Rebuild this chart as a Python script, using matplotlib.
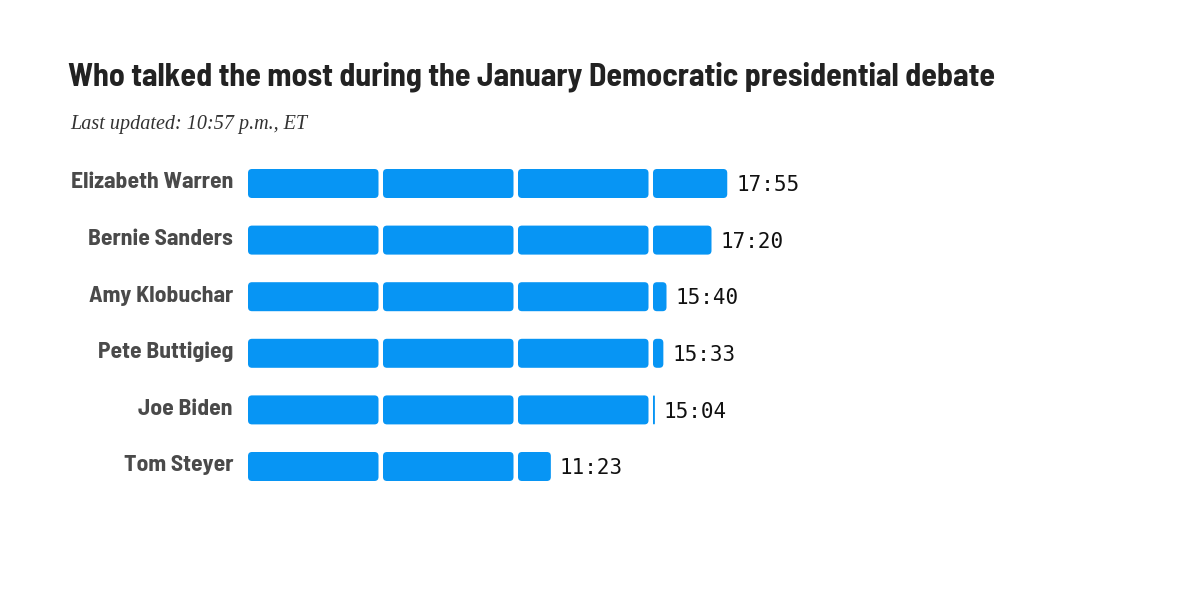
import matplotlib.pyplot as plt
from matplotlib import font_manager as fm
from matplotlib.patches import FancyBboxPatch

# speaking time per candidate, "mm:ss"
names = ["Elizabeth Warren", "Bernie Sanders", "Amy Klobuchar",
         "Pete Buttigieg", "Joe Biden", "Tom Steyer"]
times = ["17:55", "17:20", "15:40", "15:33", "15:04", "11:23"]

minutes = [int(t.split(":")[0]) + int(t.split(":")[1]) / 60 for t in times]

# condensed bold face if there is one, otherwise DejaVu at a smaller size
try:
    fm.findfont(fm.FontProperties(family="Barlow Semi Condensed", weight="bold"),
                fallback_to_default=False)
    COND, shrink = ["Barlow Semi Condensed", "DejaVu Sans"], 1.0
except ValueError:
    COND, shrink = ["DejaVu Sans"], 0.8

BLUE = "#0795f4"
CHUNK = 5          # one block = 5 minutes
PX_MIN = 27.0      # pixels per minute
PX_ROW = 56.6      # pixels per row
X0, Y0 = 248, 183.5

fig = plt.figure(figsize=(12, 6), dpi=100)
ax = fig.add_axes([0, 0, 1, 1])
ax.set_xlim(-X0 / PX_MIN, (1200 - X0) / PX_MIN)
ax.set_ylim((600 - Y0) / PX_ROW, -Y0 / PX_ROW)
ax.axis("off")

gap = 4.5 / PX_MIN
h = 29 / PX_ROW
r = 4 / PX_MIN
aspect = PX_MIN / PX_ROW

for i, (name, m, t) in enumerate(zip(names, minutes, times)):
    start = 0.0
    while start < m - 1e-9:
        seg = min(CHUNK, m - start)
        w = max(seg - gap, 0.07)
        rr = min(r, w / 2)
        box = FancyBboxPatch((start, i - h / 2), w, h,
                             boxstyle=f"round,pad=0,rounding_size={rr}",
                             mutation_aspect=aspect,
                             fc=BLUE, ec="none")
        ax.add_patch(box)
        end = start + w
        start += CHUNK
    ax.text(end + 9 / PX_MIN, i + 0.03, t, ha="left", va="center",
            family="DejaVu Sans Mono", fontsize=15, color="#111111")
    ax.text(-15 / PX_MIN, i - 0.02, name, ha="right", va="center",
            family=COND, fontweight="bold", fontsize=17 * shrink, color="#4a4a4a")

fig.text(68 / 1200, 1 - 77 / 600,
         "Who talked the most during the January Democratic presidential debate",
         ha="left", va="center", family=COND,
         fontweight="bold", fontsize=23 * shrink, color="#222222")
fig.text(70 / 1200, 1 - 124 / 600, "Last updated: 10:57 p.m., ET",
         ha="left", va="center", family=["Liberation Serif", "DejaVu Serif"],
         style="italic", fontsize=14.5, color="#333333")

fig.savefig("out.png", dpi=100, facecolor="white")
